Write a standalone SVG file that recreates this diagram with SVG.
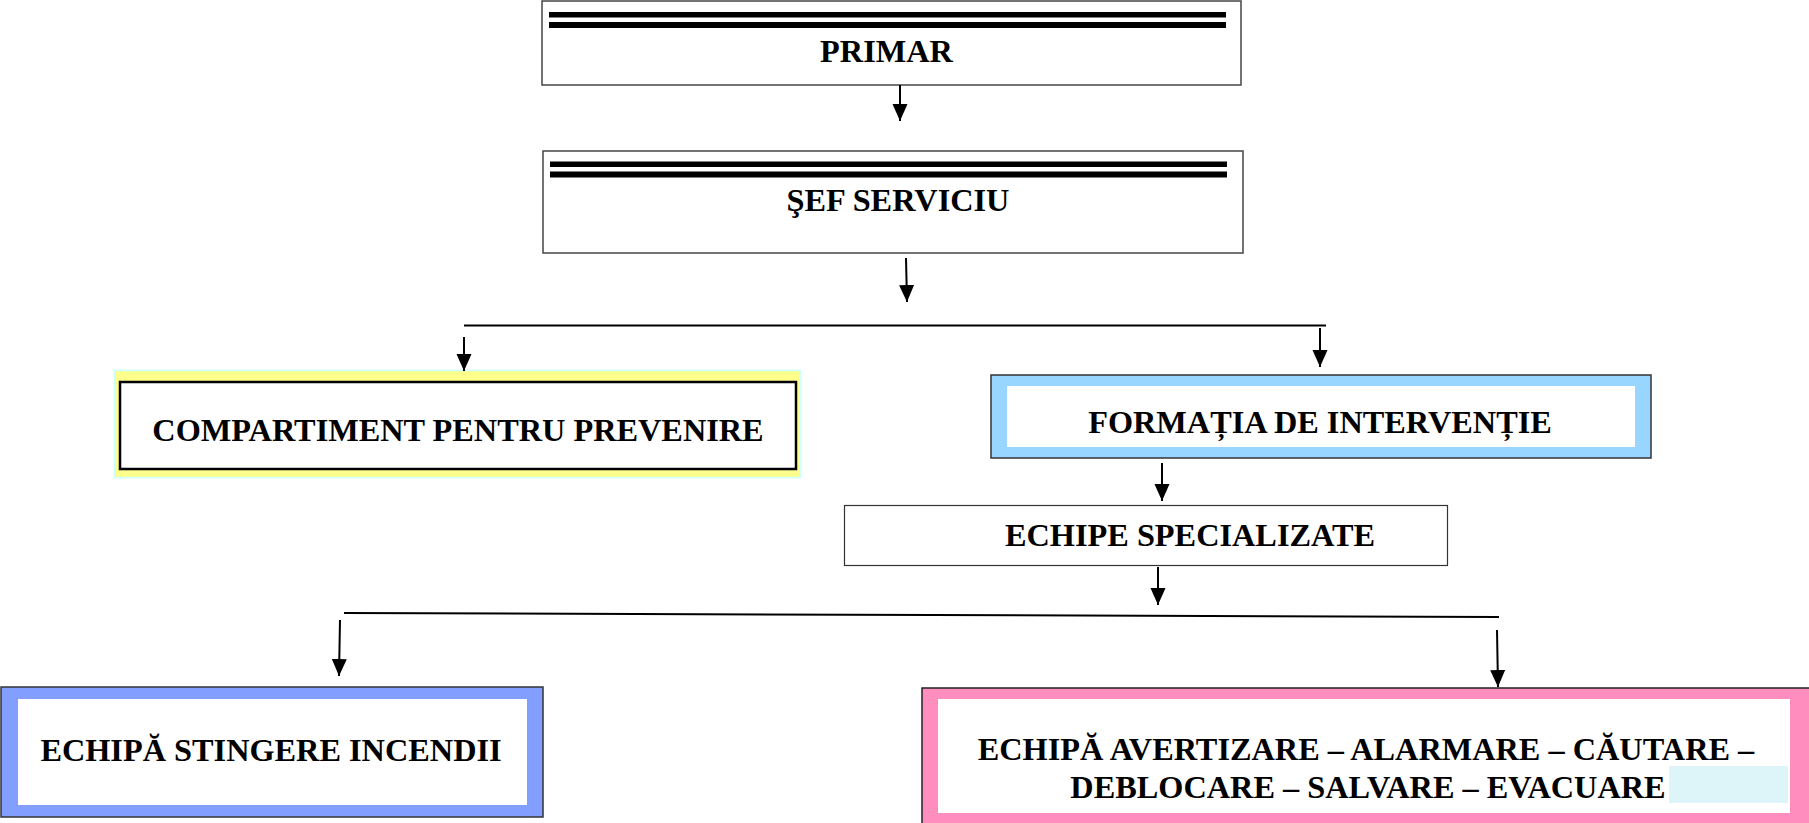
<svg xmlns="http://www.w3.org/2000/svg" width="1809" height="823" viewBox="0 0 1809 823">
<style>
.t{font-family:"Liberation Serif","Times New Roman",serif;font-weight:bold;font-size:32.3px;fill:#000}
.c{stroke:#000;stroke-width:2;fill:none}
.box{fill:#fff;stroke:#444;stroke-width:1.5}
.bar{fill:#000}
</style>
<defs>
<marker id="ah" markerUnits="userSpaceOnUse" markerWidth="18" markerHeight="18" viewBox="0 0 18 18" refX="17" refY="9" orient="auto">
<path d="M0,1.5 L17,9 L0,16.5 Z" fill="#000"/>
</marker>
</defs>
<rect width="1809" height="823" fill="#fff"/>

<g id="primar">
<rect class="box" x="542" y="1" width="699" height="84"/>
<rect class="bar" x="549" y="12" width="677" height="5.5"/>
<rect class="bar" x="549" y="22" width="677" height="6"/>
<text class="t" x="886.5" y="61.5" text-anchor="middle">PRIMAR</text>
</g>

<g id="sef-serviciu">
<rect class="box" x="543" y="151" width="700" height="102"/>
<rect class="bar" x="550" y="161.5" width="677" height="5.5"/>
<rect class="bar" x="550" y="171.5" width="677" height="6"/>
<text class="t" x="898" y="211" text-anchor="middle">ŞEF SERVICIU</text>
</g>

<g id="compartiment">
<rect x="114.5" y="370.5" width="686" height="107" fill="#FFFF8C" stroke="#CCFFFF" stroke-width="1.5"/>
<rect x="120" y="382" width="676" height="87" fill="#fff" stroke="#000" stroke-width="2.5"/>
<text class="t" x="458" y="440.5" text-anchor="middle">COMPARTIMENT PENTRU PREVENIRE</text>
</g>

<g id="formatia">
<rect x="991" y="375" width="660" height="83" fill="#99D6FF" stroke="#333" stroke-width="1.5"/>
<rect x="1007" y="386" width="628" height="61" fill="#fff"/>
<text class="t" x="1320" y="433" text-anchor="middle">FORMAȚIA DE INTERVENȚIE</text>
</g>

<g id="echipe-specializate">
<rect x="844.5" y="505.5" width="603" height="60" fill="#fff" stroke="#333" stroke-width="1.2"/>
<text class="t" x="1005" y="546">ECHIPE SPECIALIZATE</text>
</g>

<g id="stingere">
<rect x="1" y="687" width="542" height="130" fill="#829EFF" stroke="#333" stroke-width="1.5"/>
<rect x="18" y="699" width="509" height="106" fill="#fff"/>
<text class="t" x="271" y="761" text-anchor="middle">ECHIPĂ STINGERE INCENDII</text>
</g>

<g id="avertizare">
<rect x="922" y="688" width="890" height="140" fill="#FF8DBE" stroke="#222" stroke-width="1.5"/>
<rect x="938" y="699" width="852" height="114" fill="#fff"/>
<rect x="1669" y="766" width="119" height="37" fill="#DDF4F8"/>
<text class="t" x="1366" y="760" text-anchor="middle">ECHIPĂ AVERTIZARE – ALARMARE – CĂUTARE –</text>
<text class="t" x="1368" y="798" text-anchor="middle">DEBLOCARE – SALVARE – EVACUARE</text>
</g>

<g id="connectors">
<line class="c" x1="900" y1="85" x2="900" y2="121" marker-end="url(#ah)"/>
<line class="c" x1="906" y1="258" x2="907" y2="302" marker-end="url(#ah)"/>
<line class="c" x1="464" y1="325.5" x2="1326" y2="325.5"/>
<line class="c" x1="464" y1="337" x2="464" y2="371" marker-end="url(#ah)"/>
<line class="c" x1="1320" y1="328" x2="1320" y2="367" marker-end="url(#ah)"/>
<line class="c" x1="1162" y1="463" x2="1162" y2="501" marker-end="url(#ah)"/>
<line class="c" x1="1158" y1="567" x2="1158" y2="605" marker-end="url(#ah)"/>
<line class="c" x1="344" y1="613" x2="1499" y2="617"/>
<line class="c" x1="340" y1="620" x2="339" y2="676" marker-end="url(#ah)"/>
<line class="c" x1="1497" y1="630" x2="1498" y2="687" marker-end="url(#ah)"/>
</g>
</svg>
